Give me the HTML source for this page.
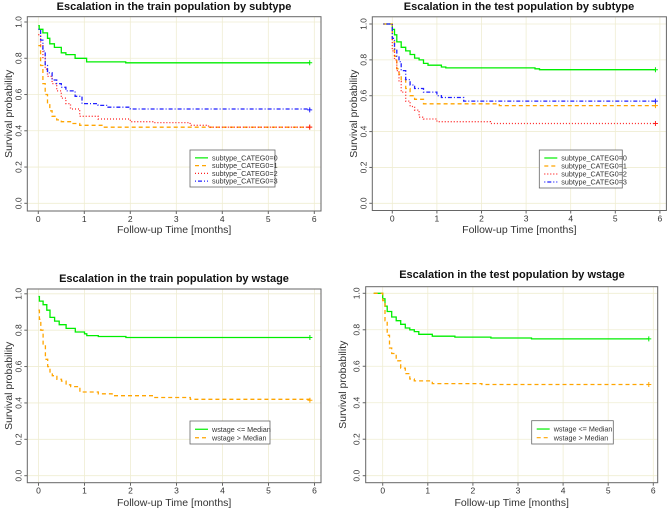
<!DOCTYPE html>
<html><head><meta charset="utf-8"><style>
html,body{margin:0;padding:0;background:#fff;}
svg{display:block;font-family:"Liberation Sans",Arial,sans-serif;}
</style></head><body>
<svg id="c" width="669" height="509" viewBox="0 0 669 509" xmlns="http://www.w3.org/2000/svg"></svg>
<script>
// ---- data ----
const xTicks = [0,1,2,3,4,5,6];
const yTicks = [0,0.2,0.4,0.6,0.8,1.0];
const yTickLabels = ["0.0","0.2","0.4","0.6","0.8","1.0"];
const subtypeLabels = ["subtype_CATEG0=0","subtype_CATEG0=1","subtype_CATEG0=2","subtype_CATEG0=3"];
const wstageLabels = ["wstage  <= Median","wstage  > Median"];
// train subtype
const trS0t=[0,0.02,0.1,0.2,0.25,0.35,0.5,0.6,0.8,1.0,1.05,1.9,5.9];
const trS0s=[0.98,0.96,0.94,0.91,0.88,0.86,0.83,0.82,0.80,0.80,0.78,0.775,0.775];
const trS1t=[0,0.05,0.1,0.15,0.2,0.25,0.3,0.4,0.5,0.7,0.9,1.4,5.9];
const trS1s=[0.87,0.76,0.66,0.6,0.55,0.51,0.48,0.46,0.45,0.44,0.43,0.42,0.42];
const trS2t=[0,0.05,0.1,0.15,0.2,0.3,0.4,0.5,0.6,0.7,0.9,1.3,2.0,2.5,3.3,3.7,5.9];
const trS2s=[0.93,0.87,0.8,0.74,0.7,0.66,0.62,0.58,0.55,0.52,0.48,0.465,0.45,0.445,0.43,0.42,0.42];
const trS3t=[0,0.05,0.1,0.15,0.2,0.3,0.4,0.5,0.6,0.8,0.95,1.3,1.5,2.0,5.9];
const trS3s=[0.96,0.9,0.84,0.76,0.72,0.68,0.66,0.64,0.62,0.59,0.55,0.54,0.53,0.52,0.515];
// test subtype
const teS0t=[-0.2,0,0.05,0.1,0.2,0.3,0.4,0.5,0.6,0.7,0.8,1.1,1.2,3.2,3.3,5.9];
const teS0s=[1,0.97,0.94,0.9,0.87,0.85,0.83,0.81,0.80,0.78,0.77,0.76,0.755,0.75,0.745,0.745];
const teS1t=[-0.2,0,0.05,0.1,0.15,0.2,0.3,0.4,0.5,0.7,2.4,5.9];
const teS1s=[1,0.9,0.82,0.75,0.72,0.69,0.64,0.6,0.58,0.555,0.545,0.545];
const teS2t=[-0.2,0,0.05,0.1,0.15,0.2,0.3,0.4,0.5,0.6,0.7,1.0,2.2,5.9];
const teS2s=[1,0.85,0.8,0.74,0.68,0.62,0.57,0.54,0.52,0.48,0.47,0.455,0.445,0.445];
const teS3t=[-0.2,0,0.05,0.1,0.15,0.2,0.3,0.4,0.5,0.7,1.0,1.1,1.6,5.9];
const teS3s=[1,0.92,0.86,0.82,0.79,0.74,0.69,0.66,0.64,0.62,0.6,0.59,0.57,0.57];
// train wstage
const trW0t=[0,0.02,0.1,0.18,0.25,0.35,0.45,0.6,0.8,1.0,1.05,1.3,1.9,5.9];
const trW0s=[0.985,0.96,0.94,0.91,0.87,0.85,0.83,0.81,0.79,0.78,0.77,0.765,0.76,0.76];
const trW1t=[0,0.02,0.05,0.1,0.15,0.2,0.25,0.3,0.4,0.5,0.6,0.7,0.9,1.3,1.6,2.5,3.3,5.9];
const trW1s=[0.91,0.86,0.8,0.72,0.64,0.6,0.57,0.55,0.53,0.52,0.5,0.49,0.46,0.45,0.44,0.43,0.42,0.415];
// test wstage
const teW0t=[-0.2,0,0.05,0.1,0.2,0.3,0.4,0.5,0.6,0.7,0.8,1.1,1.6,2.4,3.3,5.9];
const teW0s=[1,0.97,0.93,0.9,0.87,0.85,0.83,0.81,0.80,0.79,0.775,0.765,0.76,0.755,0.75,0.75];
const teW1t=[-0.2,0,0.05,0.1,0.15,0.2,0.3,0.4,0.5,0.6,0.7,1.1,2.2,5.9];
const teW1s=[1,0.96,0.85,0.77,0.7,0.67,0.63,0.59,0.56,0.53,0.52,0.505,0.5,0.5];

const colors=["#00ee00","#ffa500","#ff2020","#2020ff"];
const dashes=["", "4,3", "1,2", "1,2,4,2"];
const NS="http://www.w3.org/2000/svg";
const svg=document.getElementById('c');
function mk(tag,attrs,parent,text){const e=document.createElementNS(NS,tag);for(const k in attrs)e.setAttribute(k,attrs[k]);if(text!==undefined)e.textContent=text;(parent||svg).appendChild(e);return e;}

const panels=[
 {id:"train-subtype",title:"Escalation in the train population by subtype",L:27.3,R:321,T:16.7,B:211,x0:38.3,xs:46,y1:22,y0:203.3,tx:174,ty:10,ylx:8,xly:233,series:[[trS0t,trS0s],[trS1t,trS1s],[trS2t,trS2s],[trS3t,trS3s]],labels:subtypeLabels,lg:[190,150,85,37]},
 {id:"test-subtype",title:"Escalation in the test population by subtype",L:372.3,R:666.4,T:16.8,B:210.5,x0:392.3,xs:44.6,y1:24,y0:203.3,tx:519,ty:10,ylx:353,xly:233,series:[[teS0t,teS0s],[teS1t,teS1s],[teS2t,teS2s],[teS3t,teS3s]],labels:subtypeLabels,lg:[539.3,150,83,38]},
 {id:"train-wstage",title:"Escalation in the train population by wstage",L:27.3,R:321,T:289,B:482.7,x0:38.5,xs:46,y1:293.8,y0:475.7,tx:174,ty:282,ylx:8,xly:506,series:[[trW0t,trW0s],[trW1t,trW1s]],labels:wstageLabels,lg:[190,421,80,23]},
 {id:"test-wstage",title:"Escalation in the test population by wstage",L:365.7,R:657.7,T:286.7,B:482.7,x0:382.7,xs:45.1,y1:293.3,y0:475.7,tx:512,ty:278,ylx:342,xly:506,series:[[teW0t,teW0s],[teW1t,teW1s]],labels:wstageLabels,lg:[531.7,420.7,81.6,23.3]}
];

panels.forEach(p=>{
 const g=mk('g',{});
 
 
 const X=v=>p.x0+v*p.xs, Y=v=>p.y0+(p.y1-p.y0)*v;
 xTicks.forEach(t=>{const l=mk('line',{x1:X(t),x2:X(t),y1:p.T,y2:p.B,stroke:"#efedd2","stroke-width":0.8},g);
  });
 yTicks.forEach(t=>{const l=mk('line',{x1:p.L,x2:p.R,y1:Y(t),y2:Y(t),stroke:"#efedd2","stroke-width":0.8},g);
  });
 p.series.forEach((s,i)=>{
  const [ts,ss]=s;let d="M"+X(ts[0]).toFixed(1)+","+Y(ss[0]).toFixed(1);
  for(let k=1;k<ts.length;k++){d+=" H"+X(ts[k]).toFixed(1)+" V"+Y(ss[k]).toFixed(1);}
  const a={d:d,fill:"none",stroke:colors[i],"stroke-width":1.3};
  if(dashes[i])a["stroke-dasharray"]=dashes[i];
  const path=mk('path',a,g);
  
  
  const ex=X(ts[ts.length-1]),ey=Y(ss[ss.length-1]);
  const cm=mk('path',{d:`M${ex-2.5},${ey} H${ex+2.5} M${ex},${ey-2.5} V${ey+2.5}`,stroke:colors[i],"stroke-width":1},g);
  
  
 });
 const bx=mk('rect',{x:p.L,y:p.T,width:p.R-p.L,height:p.B-p.T,fill:"none",stroke:"#666","stroke-width":1},g);
 
 xTicks.forEach(t=>{mk('line',{x1:X(t),x2:X(t),y1:p.B,y2:p.B+3,stroke:"#666"},g);
  const tl=mk('text',{x:X(t),y:p.B+11,"font-size":8.5,"text-anchor":"middle",fill:"#333"},g,String(t));
  });
 yTicks.forEach((t,i)=>{mk('line',{x1:p.L,x2:p.L-3,y1:Y(t),y2:Y(t),stroke:"#666"},g);
  const tl=mk('text',{x:0,y:0,"font-size":8.5,"text-anchor":"middle",fill:"#333",transform:`translate(${p.L-6},${Y(t)}) rotate(-90)`},g,yTickLabels[i]);
  });
 const ti=mk('text',{x:p.tx,y:p.ty,"font-size":11,"font-weight":"bold","text-anchor":"middle",fill:"#111"},g,p.title);
 
 const xl=mk('text',{x:(p.L+p.R)/2,y:p.xly,"font-size":10.5,"text-anchor":"middle",fill:"#333"},g,"Follow-up Time [months]");
 
 const yl=mk('text',{x:0,y:0,"font-size":10.5,"text-anchor":"middle",fill:"#333",transform:`translate(${p.ylx+4},${(p.T+p.B)/2}) rotate(-90)`},g,"Survival probability");
 
 const [lx,ly,lw,lh]=p.lg;
 const lgG=mk('g',{},g);
 
 mk('rect',{x:lx,y:ly,width:lw,height:lh,fill:"#fff",stroke:"#666","stroke-width":0.8},lgG);
 const step=(lh-6)/p.labels.length;
 p.labels.forEach((lab,i)=>{
  const cy=ly+4+step*(i+0.5);
  const a={x1:lx+5,x2:lx+18,y1:cy,y2:cy,stroke:colors[i],"stroke-width":1.2};
  if(dashes[i])a["stroke-dasharray"]=dashes[i];
  mk('line',a,lgG);
  const t=mk('text',{x:lx+22,y:cy+2.6,"font-size":7.2,fill:"#333"},lgG,lab);
  
 });
});
</script>
</body></html>
